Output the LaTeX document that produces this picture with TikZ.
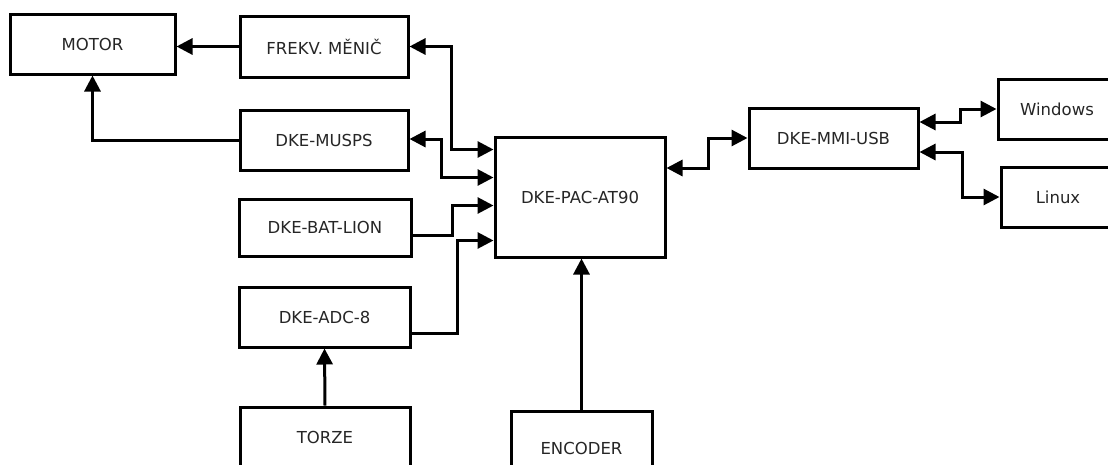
\documentclass[tikz,border=0pt]{standalone}
\usepackage{fontspec}
\setmainfont{DejaVu Sans}
\usetikzlibrary{arrows.meta,calc}
\tikzset{
  blk/.style={draw=black, line width=3pt, rectangle, inner sep=0pt, fill=white,
    font=\fontsize{16.5}{19}\selectfont, text=black!85},
  con/.style={line width=3pt, draw=black},
  tip/.tip={Triangle[length=16pt,width=16pt]},
}
\begin{document}
\begin{tikzpicture}[x=1pt,y=-1pt]
\useasboundingbox (0,0) rectangle (1108,464);
\fill[white] (0,0) rectangle (1108,464);
\clip (0,0) rectangle (1108,464);
% nodes
\node[blk, minimum width=165pt, minimum height=60pt] (motor) at (92.5,44) {MOTOR};
\node[blk, minimum width=168pt, minimum height=61pt] (frekv) at (324,46.5) {FREKV. MĚNIČ};
\node[blk, minimum width=168pt, minimum height=60pt] (musps) at (324,140) {DKE-MUSPS};
\node[blk, minimum width=172pt, minimum height=57pt] (bat) at (325,227.5) {DKE-BAT-LION};
\node[blk, minimum width=171pt, minimum height=60pt] (adc) at (324.5,317) {DKE-ADC-8};
\node[blk, minimum width=170pt, minimum height=60pt] (torze) at (325,437) {TORZE};
\node[blk, minimum width=170pt, minimum height=120pt] (pac) at (580,197) {DKE-PAC-AT90};
\node[blk, minimum width=141pt, minimum height=74pt] (enc) at (581.5,448) {ENCODER};
\node[blk, minimum width=169pt, minimum height=60pt] (mmi) at (833.5,138) {DKE-MMI-USB};
\node[blk, minimum width=118pt, minimum height=60pt] (win) at (1057,109) {Windows};
\node[blk, minimum width=114pt, minimum height=60pt] (lin) at (1058,197) {Linux};
% connectors
\draw[con,-tip] (frekv.west) -- (frekv.west -| motor.east);
\draw[con,-tip] (musps.west) -| (motor.south);
\draw[con,tip-tip] (frekv.east) -- ++(42,0) |- ([yshift=-14pt]pac.north west);
\draw[con,tip-tip] ([yshift=1pt]musps.east) -- ++(32,0) |- ([yshift=-42pt]pac.north west);
\draw[con,-tip] ([yshift=-7.5pt]bat.east) -- ++(40,0) |- ([yshift=-70pt]pac.north west);
\draw[con,-tip] ([yshift=-16pt]adc.east) -- ++(46,0) |- ([yshift=-105pt]pac.north west);
\draw[con,-tip] (torze.north) -- (adc.south);
\draw[con,-tip] (enc.north) -- (enc.north |- pac.south);
\draw[con,tip-tip] ([yshift=29pt]pac.east) -- ++(42,0) |- (mmi.west);
\draw[con,tip-tip] ([yshift=16pt]mmi.east) -- ++(41,0) |- (win.west);
\draw[con,tip-tip] ([yshift=-14pt]mmi.east) -- ++(43,0) |- (lin.west);
\end{tikzpicture}
\end{document}
